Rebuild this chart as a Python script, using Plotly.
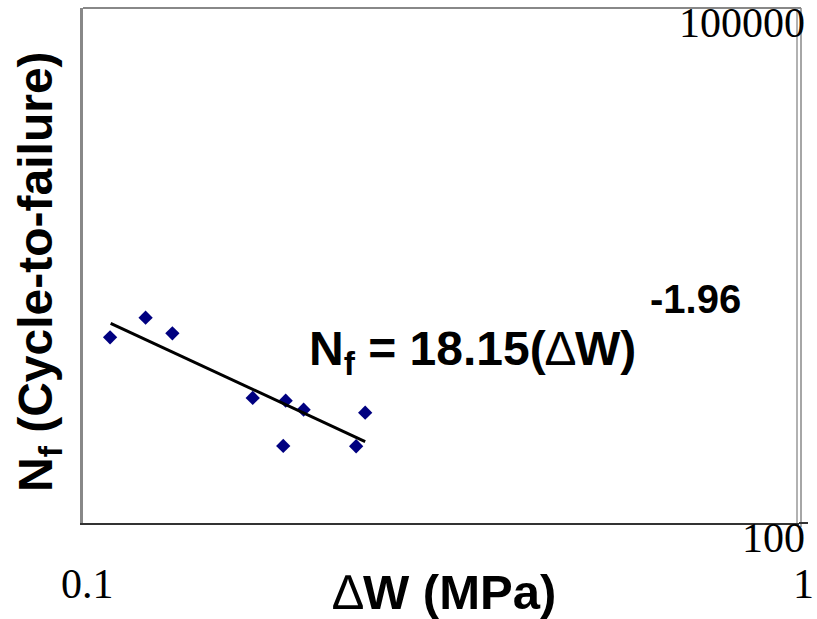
import math
import plotly.graph_objects as go

# ---- data ----
dW = [0.1091, 0.1223, 0.1333, 0.1726, 0.1919, 0.2033, 0.2478, 0.1904, 0.2407]
Nf = [1207, 1570, 1274, 535, 516, 457, 439, 281, 280]

trend_x = [0.1093, 0.2478]
trend_y = [1457, 298]

x_ticks = [0.1, 1]
x_tick_text = ["0.1", "1"]
y_ticks = [100, 100000]
y_tick_text = ["100", "100000"]

DELTA = "<span style='font-weight:normal'>\u2206</span>"
equation_text = "N<sub>f</sub> = 18.15(" + DELTA + "W)"
exponent_text = "-1.96"
x_title = DELTA + "W (MPa)"
y_title = "N<sub>f</sub> (Cycle-to-failure)"

W, H = 817, 619
L, R, T, B = 83, 18, 8, 96
pw = W - L - R
ph = H - T - B

fig = go.Figure()
fig.add_trace(go.Scatter(
    x=dW, y=Nf, mode="markers",
    marker=dict(symbol="diamond", size=11, color="#000080"),
    showlegend=False, hoverinfo="x+y"))
fig.add_trace(go.Scatter(
    x=trend_x, y=trend_y, mode="lines",
    line=dict(color="black", width=3),
    showlegend=False, hoverinfo="skip"))

serif = "Liberation Serif, Times New Roman, serif"
ann = []
for v, t in zip(x_ticks, x_tick_text):
    ann.append(dict(x=math.log10(v), y=0, xref="x", yref="paper", text=t,
                    showarrow=False, xanchor="center", yanchor="middle",
                    xshift=4, yshift=-61,
                    font=dict(family=serif, size=42, color="black")))
for v, t in zip(y_ticks, y_tick_text):
    ann.append(dict(x=1, y=math.log10(v), xref="paper", yref="y", text=t,
                    showarrow=False, xanchor="right", yanchor="middle",
                    xshift=8, yshift=-15,
                    font=dict(family=serif, size=42, color="black")))

bold = "Liberation Sans, Arial, sans-serif"
ann.append(dict(x=(473 - L) / pw, y=(H - B - 352) / ph, xref="paper", yref="paper",
                text="<b>" + equation_text + "</b>", showarrow=False,
                xanchor="center", yanchor="middle",
                font=dict(family=bold, size=48, color="black")))
ann.append(dict(x=(695 - L) / pw, y=(H - B - 299) / ph, xref="paper", yref="paper",
                text="<b>" + exponent_text + "</b>", showarrow=False,
                xanchor="center", yanchor="middle",
                font=dict(family=bold, size=40, color="black")))
ann.append(dict(x=(444 - L) / pw, y=(H - B - 592) / ph, xref="paper", yref="paper",
                text="<b>" + x_title + "</b>", showarrow=False,
                xanchor="center", yanchor="middle",
                font=dict(family=bold, size=49, color="black")))
ann.append(dict(x=(39 - L) / pw, y=(H - B - 272) / ph, xref="paper", yref="paper",
                text="<b>" + y_title + "</b>", showarrow=False, textangle=-90,
                xanchor="center", yanchor="middle",
                font=dict(family=bold, size=48, color="black")))

shapes = [
    dict(type="line", xref="paper", yref="paper", x0=0, x1=1 + 2 / pw, y0=1, y1=1,
         line=dict(color="#888888", width=2)),
    dict(type="line", xref="paper", yref="paper", x0=1 - 2 / pw, x1=1 - 2 / pw, y0=0, y1=1,
         line=dict(color="#999999", width=1.5)),
    dict(type="line", xref="paper", yref="paper", x0=1 + 2 / pw, x1=1 + 2 / pw, y0=-4 / ph, y1=1,
         line=dict(color="#888888", width=1.5)),
    dict(type="line", xref="paper", yref="paper", x0=1, x1=1 + 9 / pw, y0=0, y1=0,
         line=dict(color="#333333", width=2)),
]

fig.update_layout(
    width=W, height=H,
    margin=dict(l=L, r=R, t=T, b=B),
    paper_bgcolor="white", plot_bgcolor="white",
    xaxis=dict(type="log", range=[-1, 0], showgrid=False, zeroline=False,
               showline=True, linecolor="#333333", linewidth=2,
               showticklabels=False, ticks=""),
    yaxis=dict(type="log", range=[2, 5], showgrid=False, zeroline=False,
               showline=True, linecolor="#888888", linewidth=2.5,
               showticklabels=False, ticks=""),
    annotations=ann, shapes=shapes,
)

fig.write_html("out.html")
